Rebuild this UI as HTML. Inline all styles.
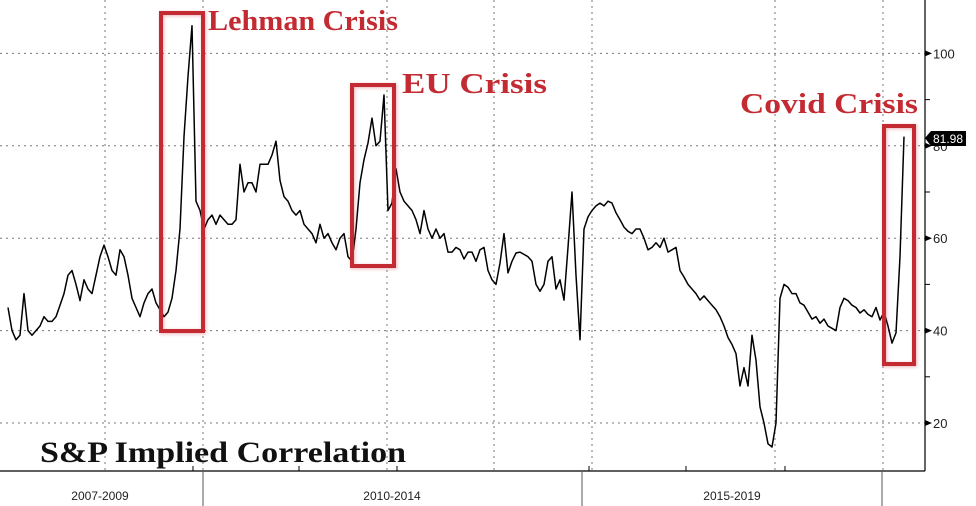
<!DOCTYPE html>
<html><head><meta charset="utf-8">
<style>
html,body{margin:0;padding:0;background:#fff;}
svg{display:block;}
.lbl{font-family:"Liberation Serif",serif;font-weight:bold;fill:#c42a32;}
</style></head>
<body>
<svg id="chart" width="976" height="506" viewBox="0 0 976 506" xmlns="http://www.w3.org/2000/svg">
<defs>
<filter id="sh" x="-20%" y="-20%" width="140%" height="140%"><feDropShadow dx="1" dy="1" stdDeviation="1.5" flood-color="#c42a32" flood-opacity="0.35"/></filter>
</defs>
<g id="grid"></g>
<g id="axes"></g>
<path id="line" fill="none" stroke="#000" stroke-width="1.5" stroke-linejoin="round"/>
<g>
<rect x="161" y="13" width="42" height="318" fill="none" stroke="#c42a32" stroke-width="4" filter="url(#sh)"/>
<rect x="352" y="85" width="42" height="181" fill="none" stroke="#c42a32" stroke-width="4" filter="url(#sh)"/>
<rect x="884" y="126" width="30" height="238" fill="none" stroke="#c42a32" stroke-width="4" filter="url(#sh)"/>
<text class="lbl" x="208" y="30" font-size="29" textLength="190" lengthAdjust="spacingAndGlyphs">Lehman Crisis</text>
<text class="lbl" x="402" y="93" font-size="29" textLength="145" lengthAdjust="spacingAndGlyphs">EU Crisis</text>
<text class="lbl" x="740" y="113" font-size="29" textLength="178" lengthAdjust="spacingAndGlyphs">Covid Crisis</text>
<text x="40" y="462" font-family="'Liberation Serif',serif" font-weight="bold" font-size="30" fill="#111" textLength="366" lengthAdjust="spacingAndGlyphs">S&amp;P Implied Correlation</text>
</g>
<g>
<polygon points="925,138 931,131 966,131 966,146 931,146" fill="#000"/>
<text x="933" y="143" font-family="'Liberation Sans',sans-serif" font-size="12" fill="#fff">81.98</text>
</g>
</svg>
<script>
const yTicks=[20,40,60,80,100];
const yMinor=[30,50,70,90];
const periods=["2007-2009","2010-2014","2015-2019"];
const values=[45,40,38,39,48,40,39,40,41,43,42,42,43,45.5,48,52,53,50,46.5,51,49,48,52,56,58.5,56,53,52,57.5,56,52,47,45,43,46,48,49,46,44.5,43,44,47,53,62,82,95,106,68,66,62,64,65,63,65,64,63,63,64,76,70,72,72,70,76,76,76,78,81,72.5,69,68,66,65,66,63,62,61,59,63,60,61,59,57.5,60,61,56,55,62,72,77,80.6,86,80,81,91,66,67.6,75,70,68,67,66,64,61,66,62,60,62,60,61,57,57,58,57.5,55.5,57,57,55,57.5,58,53,51,50,54.6,61,52.5,55,56.8,57,56.5,56,55,50,48.5,50,55,56,49,51,46.6,58,70,52,38,62,64.6,66,67,67.6,67,68,67.6,65.5,64,62.4,61.5,61,62,62,60,57.5,58,59,58,60,57,57.5,58,53,51.6,50,49,48,46.6,47.5,46.5,45.5,44.5,43,41,38.5,37,35,28,32,28,39,33.6,23.5,20,15.5,14.8,20,47,50,49.4,48,48,46,45.5,44,42.5,43,41.6,42.5,41,40.5,40,45,47,46.5,45.5,45,43.8,44.5,43.5,43,45,42.3,44,41,37.3,39.5,56,82];
const NS="http://www.w3.org/2000/svg";
const X0=8,X1=904,AX=925,AY=471;
function xs(i){return X0+(X1-X0)*i/(values.length-1);}
function ys(v){return 423-(v-20)*4.62;}
function mk(tag,attrs,parent){const e=document.createElementNS(NS,tag);for(const k in attrs)e.setAttribute(k,attrs[k]);parent.appendChild(e);return e;}
const grid=document.getElementById('grid'),axes=document.getElementById('axes');
yTicks.forEach(v=>{
  const l=mk('line',{x1:0,x2:AX,y1:ys(v),y2:ys(v),stroke:'#777','stroke-width':1,'stroke-dasharray':'2,4'},grid);
  
  
  const t=mk('polygon',{points:`${AX},${ys(v)-3} ${AX+7},${ys(v)} ${AX},${ys(v)+3}`,fill:'#000'},axes);
  
  
  const tx=mk('text',{x:AX+8,y:ys(v)+5,'font-family':"'Liberation Sans',sans-serif",'font-size':13,fill:'#222'},axes);
  tx.textContent=v;
  
  
});
yMinor.forEach(v=>{
  const l=mk('line',{x1:AX,x2:AX+5,y1:ys(v),y2:ys(v),stroke:'#000'},axes);
  
  
});
[105,203,387,494,592,775,883].forEach(x=>{
  const l=mk('line',{x1:x,x2:x,y1:0,y2:AY,stroke:'#777','stroke-width':1,'stroke-dasharray':'2,4'},grid);
  
  
});
const bounds=[0,203,582,882];
let a=mk('line',{x1:0,x2:AX,y1:AY,y2:AY,stroke:'#000','stroke-width':1.2},axes);


a=mk('line',{x1:AX,x2:AX,y1:0,y2:AY,stroke:'#000','stroke-width':1.2},axes);


bounds.slice(1).forEach(x=>{
  const l=mk('line',{x1:x,x2:x,y1:AY,y2:506,stroke:'#555'},axes);
  
  
});
[193,299,397,589,686,785].forEach(x=>{
  const l=mk('line',{x1:x,x2:x,y1:AY-5,y2:AY,stroke:'#000'},axes);
  
  
});
const centers=[100,392,732];
periods.forEach((p,i)=>{
  const t=mk('text',{x:centers[i],y:500,'text-anchor':'middle','font-family':"'Liberation Sans',sans-serif",'font-size':12,fill:'#222'},axes);
  t.textContent=p;
  
  
});
document.getElementById('line').setAttribute('d',values.map((v,i)=>(i?'L':'M')+xs(i).toFixed(1)+','+ys(v).toFixed(1)).join(''));
</script>
</body></html>
